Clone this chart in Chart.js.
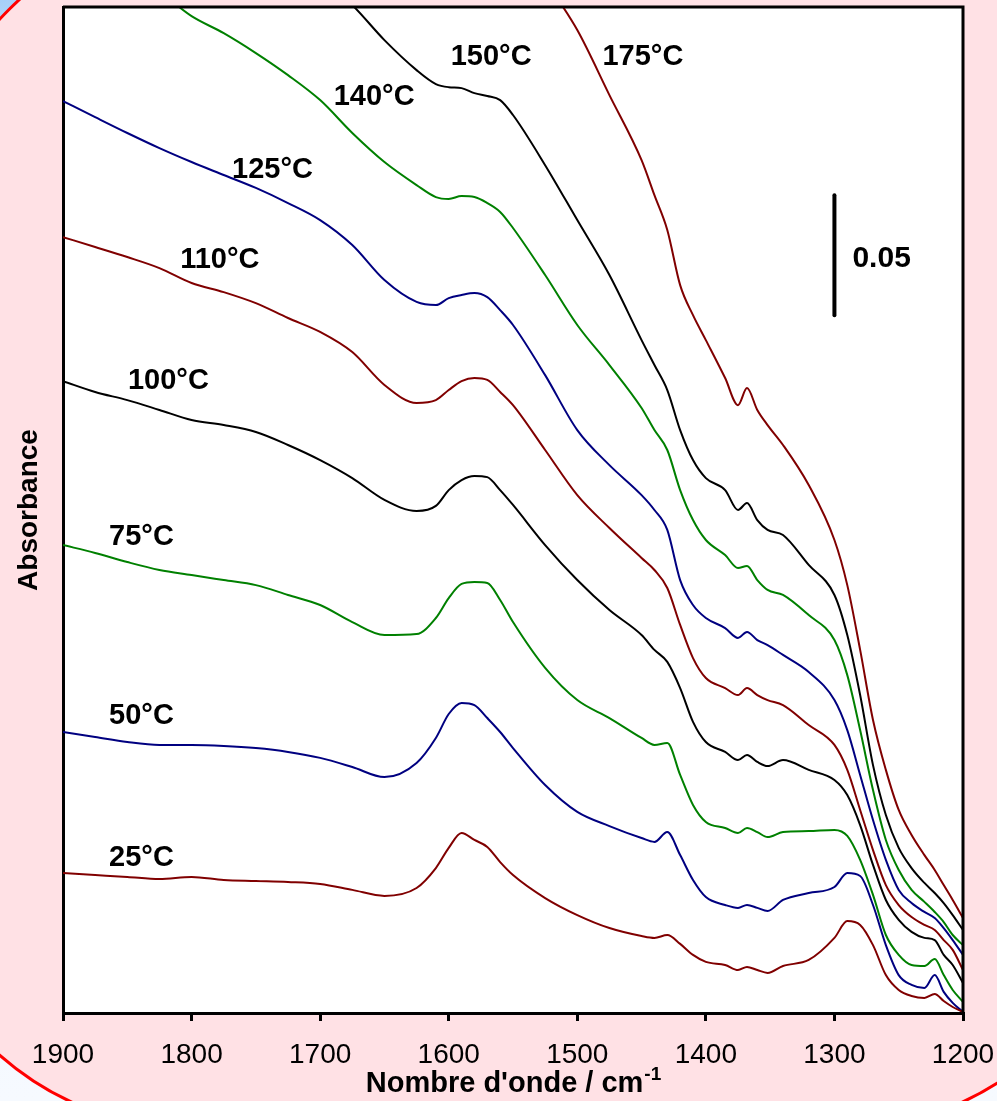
<!DOCTYPE html>
<html><head><meta charset="utf-8">
<script src="https://cdn.jsdelivr.net/npm/chart.js@4.4.0/dist/chart.umd.min.js"></script>
<style>html,body{margin:0;padding:0;background:#f5faff;overflow:hidden}canvas{display:block}</style>
</head><body>
<canvas id="c" width="997" height="1101"></canvas>
<script>
// Wavenumbers (cm-1)
const wavenumbers = [1900,1875,1850,1825,1800,1775,1750,1725,1700,1675,1650,1625,1610,1600,1590,1580,1570,1560,1550,1525,1500,1475,1450,1440,1430,1420,1410,1400,1385,1375,1368,1360,1352,1340,1320,1300,1290,1280,1270,1260,1250,1240,1230,1222,1215,1208,1200];

// Absorbance (offset-stacked spectra)
const abs25 = [0.0583,0.0575,0.0567,0.0558,0.0567,0.0554,0.0550,0.0546,0.0538,0.0513,0.0488,0.0521,0.0604,0.0688,0.0750,0.0721,0.0692,0.0629,0.0575,0.0479,0.0408,0.0354,0.0321,0.0313,0.0325,0.0288,0.0242,0.0213,0.0200,0.0179,0.0192,0.0179,0.0167,0.0196,0.0221,0.0313,0.0383,0.0367,0.0283,0.0158,0.0096,0.0071,0.0063,0.0079,0.0050,0.0025,0.0004];
const abs50 = [0.1171,0.1150,0.1129,0.1117,0.1117,0.1113,0.1104,0.1088,0.1063,0.1025,0.0983,0.1042,0.1146,0.1246,0.1292,0.1283,0.1229,0.1171,0.1104,0.0950,0.0838,0.0779,0.0729,0.0713,0.0754,0.0658,0.0554,0.0483,0.0450,0.0438,0.0450,0.0438,0.0425,0.0471,0.0500,0.0525,0.0583,0.0571,0.0450,0.0283,0.0158,0.0117,0.0104,0.0158,0.0088,0.0042,0.0004];
const abs75 = [0.1950,0.1917,0.1879,0.1846,0.1825,0.1804,0.1783,0.1742,0.1700,0.1629,0.1575,0.1579,0.1646,0.1729,0.1788,0.1796,0.1792,0.1721,0.1629,0.1438,0.1304,0.1229,0.1146,0.1117,0.1125,0.0992,0.0867,0.0796,0.0771,0.0750,0.0771,0.0754,0.0733,0.0754,0.0758,0.0763,0.0738,0.0638,0.0492,0.0325,0.0242,0.0200,0.0196,0.0225,0.0158,0.0096,0.0046];
const abs100 = [0.2633,0.2588,0.2554,0.2513,0.2471,0.2450,0.2421,0.2367,0.2304,0.2229,0.2138,0.2092,0.2113,0.2179,0.2221,0.2238,0.2233,0.2179,0.2117,0.1950,0.1804,0.1679,0.1575,0.1513,0.1463,0.1354,0.1213,0.1129,0.1088,0.1054,0.1075,0.1046,0.1029,0.1054,0.1013,0.0971,0.0908,0.0783,0.0617,0.0471,0.0388,0.0338,0.0313,0.0304,0.0242,0.0200,0.0125];
const abs110 = [0.3233,0.3192,0.3150,0.3104,0.3042,0.3004,0.2958,0.2896,0.2838,0.2754,0.2617,0.2542,0.2554,0.2596,0.2633,0.2646,0.2638,0.2588,0.2533,0.2346,0.2158,0.2021,0.1896,0.1846,0.1771,0.1617,0.1479,0.1396,0.1354,0.1325,0.1354,0.1325,0.1304,0.1283,0.1200,0.1117,0.1013,0.0846,0.0679,0.0533,0.0450,0.0400,0.0367,0.0346,0.0304,0.0263,0.0179];
const abs125 = [0.3800,0.3733,0.3667,0.3604,0.3546,0.3492,0.3438,0.3375,0.3304,0.3200,0.3054,0.2963,0.2950,0.2979,0.2992,0.3000,0.2983,0.2929,0.2867,0.2658,0.2429,0.2283,0.2158,0.2096,0.2013,0.1804,0.1700,0.1646,0.1604,0.1563,0.1588,0.1554,0.1533,0.1492,0.1421,0.1304,0.1179,0.0992,0.0804,0.0638,0.0513,0.0458,0.0421,0.0396,0.0354,0.0304,0.0242];
const abs140 = [0.4471,0.4396,0.4321,0.4254,0.4154,0.4083,0.4000,0.3908,0.3804,0.3667,0.3546,0.3450,0.3400,0.3392,0.3404,0.3400,0.3375,0.3338,0.3271,0.3075,0.2867,0.2700,0.2521,0.2429,0.2346,0.2179,0.2054,0.1971,0.1908,0.1854,0.1863,0.1804,0.1763,0.1742,0.1658,0.1554,0.1408,0.1179,0.0929,0.0721,0.0596,0.0513,0.0463,0.0421,0.0379,0.0325,0.0283];
const abs150 = [0.5263,0.5117,0.4971,0.4846,0.4742,0.4638,0.4533,0.4429,0.4313,0.4200,0.4054,0.3929,0.3871,0.3858,0.3854,0.3833,0.3821,0.3804,0.3742,0.3533,0.3304,0.3075,0.2804,0.2700,0.2596,0.2429,0.2304,0.2229,0.2179,0.2096,0.2125,0.2054,0.2013,0.1992,0.1867,0.1742,0.1575,0.1325,0.1033,0.0825,0.0688,0.0604,0.0542,0.0500,0.0458,0.0408,0.0346];
const abs175 = [0.6554,0.6429,0.6304,0.6179,0.6054,0.5929,0.5804,0.5679,0.5554,0.5429,0.5304,0.5158,0.5054,0.4992,0.4908,0.4825,0.4742,0.4638,0.4513,0.4304,0.4096,0.3825,0.3554,0.3408,0.3263,0.3033,0.2908,0.2804,0.2646,0.2533,0.2604,0.2513,0.2450,0.2367,0.2200,0.1971,0.1783,0.1513,0.1221,0.1013,0.0846,0.0742,0.0658,0.0596,0.0533,0.0471,0.0396];

const seriesNames = ['25°C','50°C','75°C','100°C','110°C','125°C','140°C','150°C','175°C'];
const seriesValues = [abs25,abs50,abs75,abs100,abs110,abs125,abs140,abs150,abs175];
const seriesColors = ['#800000','#000080','#008000','#000000','#800000','#000080','#008000','#000000','#800000'];

// Curve label anchors (wavenumber, absorbance)
const labelWn = [1839,1839,1839,1818,1778,1737,1658,1567,1449];
const labelAbs = [0.0646,0.1238,0.1983,0.2633,0.3138,0.3513,0.3817,0.3983,0.3983];

const xTicks = [1900,1800,1700,1600,1500,1400,1300,1200];
const scaleBar = {wn:1300, from:0.2908, to:0.3408, label:'0.05', labelWn:1286};

const FONT = '"Liberation Sans", Arial, Helvetica, sans-serif';

function pageShape(ctx){
  const L=-102,T=-102,R=1136,B=1130, tl=380,tr=300,br=300,bl=300;
  ctx.beginPath();
  ctx.moveTo(L+tl,T);
  ctx.lineTo(R-tr,T); ctx.arcTo(R,T,R,T+tr,tr);
  ctx.lineTo(R,B-br); ctx.arcTo(R,B,R-br,B,br);
  ctx.lineTo(L+bl,B); ctx.arcTo(L,B,L,B-bl,bl);
  ctx.lineTo(L,T+tl); ctx.arcTo(L,T,L+tl,T,tl);
  ctx.closePath();
}

const bgPlugin = {
  id:'bg',
  beforeDraw(chart){
    const ctx=chart.ctx, W=chart.width, H=chart.height, a=chart.chartArea;
    ctx.save();
    const g=ctx.createLinearGradient(0,0,0,H);
    g.addColorStop(0,'#a6cff8'); g.addColorStop(0.12,'#e6f1fd'); g.addColorStop(1,'#f6faff');
    ctx.fillStyle=g; ctx.fillRect(0,0,W,H);
    pageShape(ctx);
    ctx.fillStyle='#ffe1e5'; ctx.fill();
    ctx.lineWidth=3; ctx.strokeStyle='#ff0000'; ctx.stroke();
    ctx.fillStyle='#ffffff';
    ctx.fillRect(a.left,a.top,a.right-a.left,a.bottom-a.top);
    ctx.restore();
  }
};

const decorPlugin = {
  id:'decor',
  afterDraw(chart){
    const ctx=chart.ctx, a=chart.chartArea, xs=chart.scales.x, ys=chart.scales.y;
    ctx.save();
    // top & right frame
    ctx.strokeStyle='#000'; ctx.lineWidth=3;
    ctx.beginPath();
    ctx.moveTo(a.left,a.top); ctx.lineTo(a.right,a.top); ctx.lineTo(a.right,a.bottom);
    ctx.stroke();
    // curve labels
    ctx.fillStyle='#000'; ctx.textAlign='center'; ctx.textBaseline='middle';
    ctx.font='bold 29px '+FONT;
    seriesNames.forEach((n,i)=>{
      ctx.fillText(n, xs.getPixelForValue(labelWn[i]), ys.getPixelForValue(labelAbs[i]));
    });
    // scale bar
    const bx=xs.getPixelForValue(scaleBar.wn);
    const y1=ys.getPixelForValue(scaleBar.from), y2=ys.getPixelForValue(scaleBar.to);
    ctx.lineWidth=4; ctx.lineCap='round';
    ctx.beginPath(); ctx.moveTo(bx,y1); ctx.lineTo(bx,y2); ctx.stroke();
    ctx.textAlign='left'; ctx.font='bold 30px '+FONT;
    ctx.fillText(scaleBar.label, xs.getPixelForValue(scaleBar.labelWn), (y1+y2)/2+4);
    // y title
    ctx.save();
    ctx.translate(29,(a.top+a.bottom)/2);
    ctx.rotate(-Math.PI/2);
    ctx.textAlign='center'; ctx.textBaseline='middle';
    ctx.font='bold 28px '+FONT;
    ctx.fillText('Absorbance',0,0);
    ctx.restore();
    // x title with superscript
    const main='Nombre d\'onde / cm', sup='-1';
    ctx.font='bold 29px '+FONT; const w1=ctx.measureText(main).width;
    ctx.font='bold 19px '+FONT; const w2=ctx.measureText(sup).width;
    const cx=(a.left+a.right)/2, start=cx-(w1+w2)/2, base=1092;
    ctx.textAlign='left'; ctx.textBaseline='alphabetic';
    ctx.font='bold 29px '+FONT; ctx.fillText(main,start,base);
    ctx.font='bold 19px '+FONT; ctx.fillText(sup,start+w1+1,base-12);
    ctx.restore();
  }
};

const datasets = seriesValues.map((vals,i)=>({
  label: seriesNames[i],
  data: wavenumbers.map((w,j)=>({x:w,y:vals[j]})),
  borderColor: seriesColors[i],
  borderWidth: 2,
  pointRadius: 0,
  fill: false,
  cubicInterpolationMode: 'monotone'
}));

new Chart(document.getElementById('c'), {
  type:'line',
  data:{datasets},
  options:{
    responsive:false, animation:false, devicePixelRatio:1,
    layout:{padding:{left:63,right:34,top:7,bottom:28}},
    plugins:{legend:{display:false},tooltip:{enabled:false},title:{display:false}},
    scales:{
      x:{type:'linear', reverse:true, min:1200, max:1900,
        afterFit(s){s.height=60; s.paddingLeft=0; s.paddingRight=0;},
        afterBuildTicks(s){s.ticks=xTicks.map(v=>({value:v}));},
        ticks:{font:{family:FONT,size:28}, color:'#000', padding:17, maxRotation:0, autoSkip:false, callback:v=>String(v)},
        grid:{drawOnChartArea:false, drawTicks:true, tickLength:8, tickWidth:3, tickColor:'#000', lineWidth:3, color:'#000'},
        border:{display:true,color:'#000',width:3}},
      y:{type:'linear', min:0, max:0.4192,
        afterFit(s){s.width=0; s.paddingTop=0; s.paddingBottom=0;},
        ticks:{display:false},
        grid:{display:false},
        border:{display:true,color:'#000',width:3}}
    }
  },
  plugins:[bgPlugin,decorPlugin]
});
</script>
</body></html>
